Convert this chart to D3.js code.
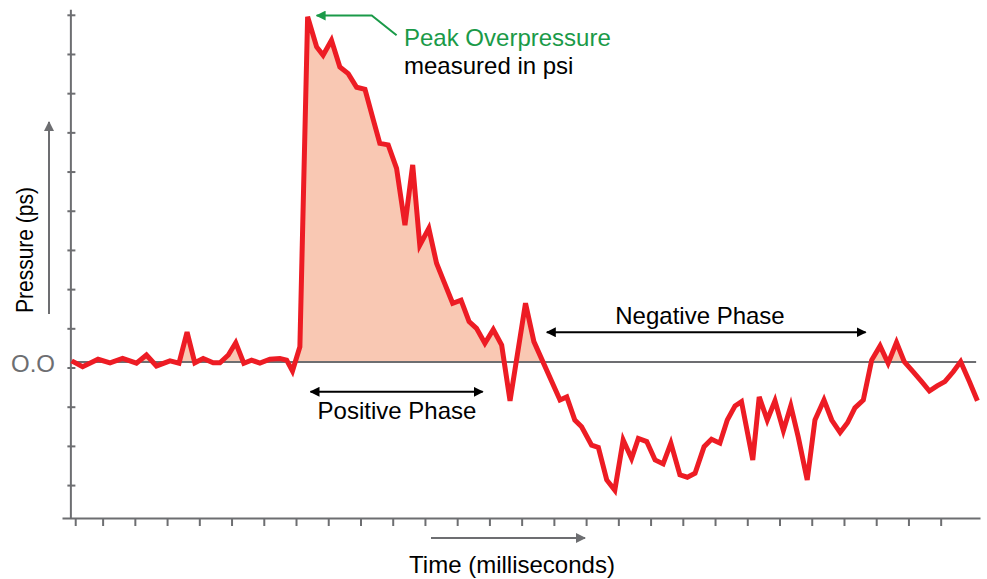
<!DOCTYPE html>
<html>
<head>
  <meta charset="utf-8">
  <title>Blast Wave Pressure</title>
  <script src="https://d3js.org/d3.v7.min.js"></script>
  <style>
    body { margin: 0; background: white; }
    text { font-family: "Liberation Sans", Arial, Helvetica, sans-serif; font-size: 24px; }
    .axis path, .axis line { stroke: #6d6e71; stroke-width: 2; }
  </style>
</head>
<body>
<script>
  // Data: time (ms) and pressure (psi)
  var times = [0.04, 0.38, 0.86, 1.23, 1.62, 2.05, 2.36, 2.67, 3.09, 3.37,
    3.62, 3.86, 4.12, 4.43, 4.64, 4.90, 5.13, 5.38, 5.62, 5.88,
    6.19, 6.50, 6.71, 6.89, 7.12, 7.36, 7.64, 7.84, 8.10, 8.36,
    8.62, 8.88, 9.14, 9.40, 9.60, 9.86, 10.12, 10.38, 10.62, 10.84,
    11.12, 11.36, 11.57, 11.86, 12.12, 12.37, 12.60, 12.86, 13.12, 13.38,
    13.64, 14.12, 14.38, 15.19, 15.40, 15.65, 15.86, 16.17, 16.38, 16.64,
    16.89, 17.15, 17.41, 17.62, 17.88, 18.14, 18.39, 18.63, 18.91, 19.14,
    19.38, 19.66, 19.89, 20.15, 20.38, 20.62, 20.82, 21.17, 21.37, 21.62,
    21.86, 22.12, 22.35, 22.58, 22.86, 23.10, 23.38, 23.62, 23.88, 24.11,
    24.34, 24.60, 24.86, 25.12, 25.37, 25.63, 25.87, 26.15, 26.41, 26.65,
    26.89, 27.13, 27.39, 27.62, 27.89, 28.14];
  var pressure = [0.03, -0.12, 0.07, -0.02, 0.09, -0.03, 0.18, -0.10, 0.03, -0.03,
    0.76, -0.02, 0.09, -0.02, -0.02, 0.18, 0.49, -0.03, 0.05, -0.03,
    0.07, 0.09, 0.05, -0.23, 0.39, 8.81, 8.04, 7.83, 8.21, 7.53,
    7.36, 7.01, 6.96, 6.17, 5.58, 5.54, 4.94, 3.49, 5.03, 2.98,
    3.41, 2.52, 2.09, 1.50, 1.58, 1.03, 0.86, 0.48, 0.83, 0.43,
    -0.99, 1.50, 0.52, -0.97, -0.89, -1.48, -1.65, -2.12, -2.18, -3.01,
    -3.27, -1.99, -2.46, -1.95, -2.03, -2.50, -2.60, -2.07, -2.88, -2.94,
    -2.84, -2.16, -1.97, -2.07, -1.48, -1.12, -1.01, -2.50, -0.89, -1.48,
    -0.99, -1.75, -1.12, -1.91, -3.01, -1.48, -0.97, -1.48, -1.80, -1.55,
    -1.17, -0.97, 0.05, 0.41, -0.03, 0.50, 0.01, -0.25, -0.50, -0.74,
    -0.61, -0.50, -0.25, 0.01, -0.50, -0.99];

  var xTicks = [0.15].concat(d3.range(1, 28));
  var yTicks = d3.range(13).map(function(k) { return 8.86 - k; });

  var width = 987;
  var height = 579;
  var grey = "#6d6e71";
  var red = "#ed1c24";
  var green = "#1a9a48";

  var svg = d3.select("body")
              .append("svg")
              .attr("width", width)
              .attr("height", height);

  // Scales
  var x = d3.scaleLinear().domain([-0.26, 28.22]).range([62, 980]);
  var y = d3.scaleLinear().domain([-3.98, 9.0]).range([518, 9.3]);

  var data = times.map(function(t, i) { return {t: t, v: pressure[i]}; });

  // Markers
  var defs = svg.append("defs");
  function marker(id, color) {
    defs.append("marker")
        .attr("id", id)
        .attr("viewBox", "0 0 10 10")
        .attr("refX", 9).attr("refY", 5)
        .attr("markerWidth", 10).attr("markerHeight", 10)
        .attr("markerUnits", "userSpaceOnUse")
        .attr("orient", "auto-start-reverse")
      .append("path")
        .attr("d", "M0,0L10,5L0,10Z")
        .attr("fill", color);
  }
  marker("arrBlack", "#000");
  marker("arrGrey", grey);
  marker("arrGreen", green);

  // Positive area, clipped above zero
  defs.append("clipPath").attr("id", "above")
      .append("rect")
      .attr("x", 0).attr("y", 0)
      .attr("width", width).attr("height", y(0));

  svg.append("path")
     .datum(data)
     .attr("clip-path", "url(#above)")
     .attr("fill", "#f9c8b3")
     .attr("d", d3.area()
                  .x(function(d) { return x(d.t); })
                  .y0(y(0))
                  .y1(function(d) { return y(d.v); }));

  // Zero line
  svg.append("line")
     .attr("x1", x(0)).attr("x2", x(28.1))
     .attr("y1", y(0)).attr("y2", y(0))
     .attr("stroke", grey).attr("stroke-width", 2);

  // Axes
  svg.append("g")
     .attr("class", "axis")
     .attr("transform", "translate(0," + y.range()[0] + ")")
     .call(d3.axisBottom(x).tickValues(xTicks).tickSize(8).tickSizeOuter(0).tickFormat(""))
     .selectAll(".tick line").attr("y1", 1);

  var yAxis = svg.append("g")
     .attr("class", "axis")
     .attr("transform", "translate(" + x(0) + ",0)")
     .call(d3.axisLeft(y).tickValues(yTicks).tickSize(-5).tickSizeOuter(0).tickFormat(""));
  yAxis.selectAll(".tick line").attr("x1", -3);

  // Pressure line
  svg.append("path")
     .datum(data)
     .attr("fill", "none")
     .attr("stroke", red)
     .attr("stroke-width", 5)
     .attr("d", d3.line()
                  .x(function(d) { return x(d.t); })
                  .y(function(d) { return y(d.v); }));

  // Zero label
  svg.append("text")
     .attr("x", 55).attr("y", y(0) + 9.5)
     .attr("text-anchor", "end")
     .attr("fill", grey)
     .text("O.O");

  // Axis titles with arrows
  svg.append("text")
     .attr("transform", "translate(33,250) rotate(-90)")
     .attr("text-anchor", "middle")
     .attr("textLength", 126)
     .attr("lengthAdjust", "spacingAndGlyphs")
     .text("Pressure (ps)");
  svg.append("line")
     .attr("x1", 49).attr("x2", 49)
     .attr("y1", 314).attr("y2", 122)
     .attr("stroke", grey).attr("stroke-width", 2)
     .attr("marker-end", "url(#arrGrey)");

  svg.append("text")
     .attr("x", 512).attr("y", 573)
     .attr("text-anchor", "middle")
     .text("Time (milliseconds)");
  svg.append("line")
     .attr("x1", 431).attr("x2", 585)
     .attr("y1", 538).attr("y2", 538)
     .attr("stroke", grey).attr("stroke-width", 2)
     .attr("marker-end", "url(#arrGrey)");

  // Phase annotations
  svg.append("line")
     .attr("x1", x(7.45)).attr("x2", x(12.79))
     .attr("y1", y(-0.76)).attr("y2", y(-0.76))
     .attr("stroke", "#000").attr("stroke-width", 2)
     .attr("marker-start", "url(#arrBlack)")
     .attr("marker-end", "url(#arrBlack)");
  svg.append("text")
     .attr("x", 397).attr("y", 419)
     .attr("text-anchor", "middle")
     .text("Positive Phase");

  svg.append("line")
     .attr("x1", x(14.78)).attr("x2", x(24.67))
     .attr("y1", y(0.76)).attr("y2", y(0.76))
     .attr("stroke", "#000").attr("stroke-width", 2)
     .attr("marker-start", "url(#arrBlack)")
     .attr("marker-end", "url(#arrBlack)");
  svg.append("text")
     .attr("x", 700).attr("y", 324)
     .attr("text-anchor", "middle")
     .text("Negative Phase");

  // Peak annotation
  svg.append("path")
     .attr("d", "M" + x(10.12) + "," + y(8.34) + "L" + x(9.35) + "," + y(8.84) + "L" + x(7.64) + "," + y(8.84))
     .attr("fill", "none")
     .attr("stroke", green).attr("stroke-width", 2)
     .attr("marker-end", "url(#arrGreen)");
  svg.append("text")
     .attr("x", 404).attr("y", 46)
     .attr("fill", green)
     .text("Peak Overpressure");
  svg.append("text")
     .attr("x", 404).attr("y", 74)
     .text("measured in psi");
</script>
</body>
</html>
